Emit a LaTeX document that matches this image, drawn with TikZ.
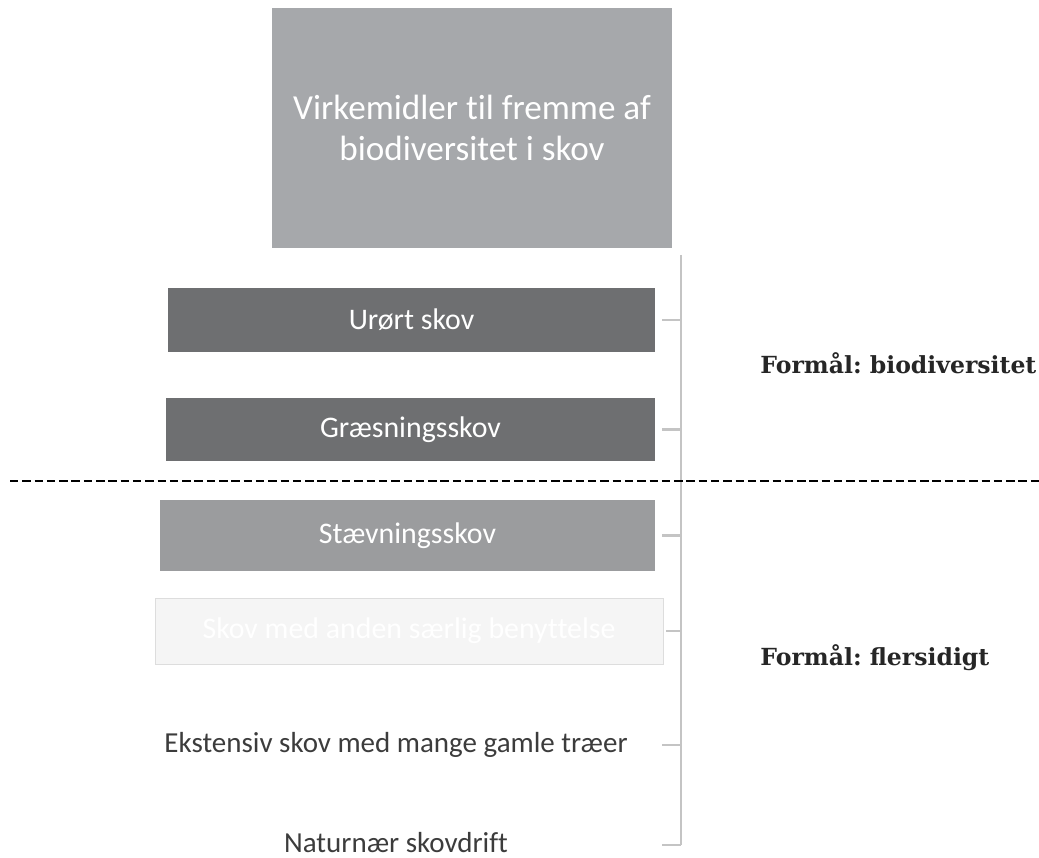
\documentclass[tikz,border=0pt]{standalone}
\usepackage{fontspec}
\setmainfont[RawFeature=-liga]{Carlito}
\newfontfamily\formalfont{DejaVu Serif}
\usetikzlibrary{positioning}
\definecolor{topgray}{HTML}{A6A8AB}
\definecolor{darkgray}{HTML}{6E6F71}
\definecolor{midgray}{HTML}{9B9C9E}
\definecolor{palegray}{HTML}{F5F5F5}
\definecolor{paleline}{HTML}{DDDDDD}
\definecolor{brgray}{HTML}{C4C4C4}
\definecolor{txtgray}{HTML}{3C3C3C}
\frenchspacing

\begin{document}
\begin{tikzpicture}[x=0.02cm,y=-0.02cm]
\tikzstyle{item}=[inner sep=0pt, font=\fontsize{17}{20}\selectfont, text=white]
\tikzstyle{plaintext}=[inner sep=0pt, font=\fontsize{16.5}{20}\selectfont, text=txtgray]
\tikzstyle{formal}=[inner sep=0pt, anchor=west, font=\formalfont\bfseries\fontsize{13.4}{16}\selectfont, text=black!85]
\tikzstyle{tick}=[draw=brgray, line width=1.2pt]
\useasboundingbox (0,0) rectangle (1039,858);

\draw node at (472,128) [item, fill=topgray, minimum width=8cm, minimum height=4.8cm,
  align=center, font=\fontsize{20}{23.5}\selectfont] (Top) {Virkemidler til fremme af\\biodiversitet i skov};

\draw node at (411.5,320) [item, fill=darkgray, minimum width=9.74cm, minimum height=1.28cm] (Urort) {Urørt skov};
\draw node at (410.5,429.5) [item, fill=darkgray, minimum width=9.78cm, minimum height=1.26cm] (Graes) {Græsningsskov};
\draw node at (407.5,535.5) [item, fill=midgray, minimum width=9.9cm, minimum height=1.42cm] (Staev) {Stævningsskov};
\draw node at (409,631) [item, fill=palegray, draw=paleline, line width=0.4pt, minimum width=10.16cm, minimum height=1.32cm] (Saerlig) {Skov med anden særlig benyttelse};
\draw node at (396,745) [plaintext] (Ekst) {Ekstensiv skov med mange gamle træer};
\draw node at (396,843) [plaintext] (Natur) {Naturnær skovdrift};

\draw node at (760,363) [formal] (Bio) {Formål: biodiversitet};
\draw node at (760,658) [formal] (Fler) {Formål: flersidigt};

% bracket
\coordinate (brTop) at (681,255);
\coordinate (brBot) at (681,845);
\draw[draw=brgray, line width=1.7pt] (brTop) -- (brBot);
\draw[tick] (662,320) -- (Urort.east -| brTop);
\draw[tick] (662,429.5) -- (Graes.east -| brTop);
\draw[tick] (662,535.5) -- (Staev.east -| brTop);
\draw[tick] (666,631) -- (Saerlig.east -| brTop);
\draw[tick] (662,745) -- (Ekst.east -| brTop);
\draw[tick] (662,845) -- (brBot);

% separator
\coordinate (sepL) at (10,481);
\coordinate (sepR) at (1039,481);
\draw[line width=1.7pt, dash pattern=on 4.8pt off 2.2pt] (sepL) -- (sepR);
\end{tikzpicture}
\end{document}
